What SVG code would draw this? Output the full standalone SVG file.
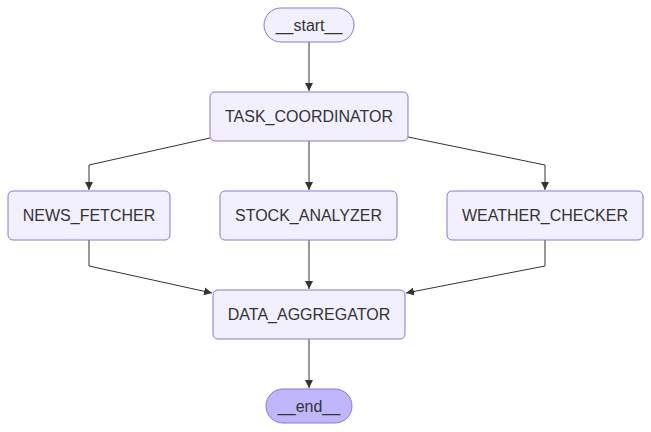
<svg xmlns="http://www.w3.org/2000/svg" width="651" height="432" viewBox="0 0 651 432">
<style>
.node rect{fill:#f2f0ff;stroke:#9370db;stroke-width:1}
.node.term rect{fill:#bfb6fc}
.node.first rect{fill:#f2f0ff}
text{font-family:"Liberation Sans",Arial,sans-serif;font-size:16px;fill:#333;text-anchor:middle;dominant-baseline:central}
.edges path{fill:none;stroke:#333;stroke-width:1}
</style>
<defs>
<marker id="arr" viewBox="0 0 10 10" refX="10" refY="5" markerWidth="8" markerHeight="8" markerUnits="userSpaceOnUse" orient="auto">
<path d="M0,0L10,5L0,10z" fill="#333"/>
</marker>
</defs>
<rect width="651" height="432" fill="#fff"/>
<g class="edges">
<path d="M309,42V91" marker-end="url(#arr)"/>
<path d="M210,138L89,165V190" marker-end="url(#arr)"/>
<path d="M309,141V190" marker-end="url(#arr)"/>
<path d="M408,137L545,165V190" marker-end="url(#arr)"/>
<path d="M89,240V266L212,293" marker-end="url(#arr)"/>
<path d="M309,240V289" marker-end="url(#arr)"/>
<path d="M545,240V266L406,293" marker-end="url(#arr)"/>
<path d="M309,339V388" marker-end="url(#arr)"/>
</g>
<g id="start" class="node first"><rect x="264" y="8" width="90" height="34" rx="17"/><text x="309" y="25">__start__</text></g>
<g id="TASK_COORDINATOR" class="node"><rect x="210" y="92" width="198" height="49" rx="5"/><text x="309" y="116.5">TASK_COORDINATOR</text></g>
<g id="NEWS_FETCHER" class="node"><rect x="8" y="191" width="162" height="49" rx="5"/><text x="89" y="215.5">NEWS_FETCHER</text></g>
<g id="STOCK_ANALYZER" class="node"><rect x="220" y="191" width="177" height="49" rx="5"/><text x="308.5" y="215.5">STOCK_ANALYZER</text></g>
<g id="WEATHER_CHECKER" class="node"><rect x="447" y="191" width="196" height="49" rx="5"/><text x="545" y="215.5">WEATHER_CHECKER</text></g>
<g id="DATA_AGGREGATOR" class="node"><rect x="213" y="290" width="192" height="49" rx="5"/><text x="309" y="314.5">DATA_AGGREGATOR</text></g>
<g id="end" class="node term"><rect x="266" y="389" width="86" height="34" rx="17"/><text x="309" y="406">__end__</text></g>
</svg>
